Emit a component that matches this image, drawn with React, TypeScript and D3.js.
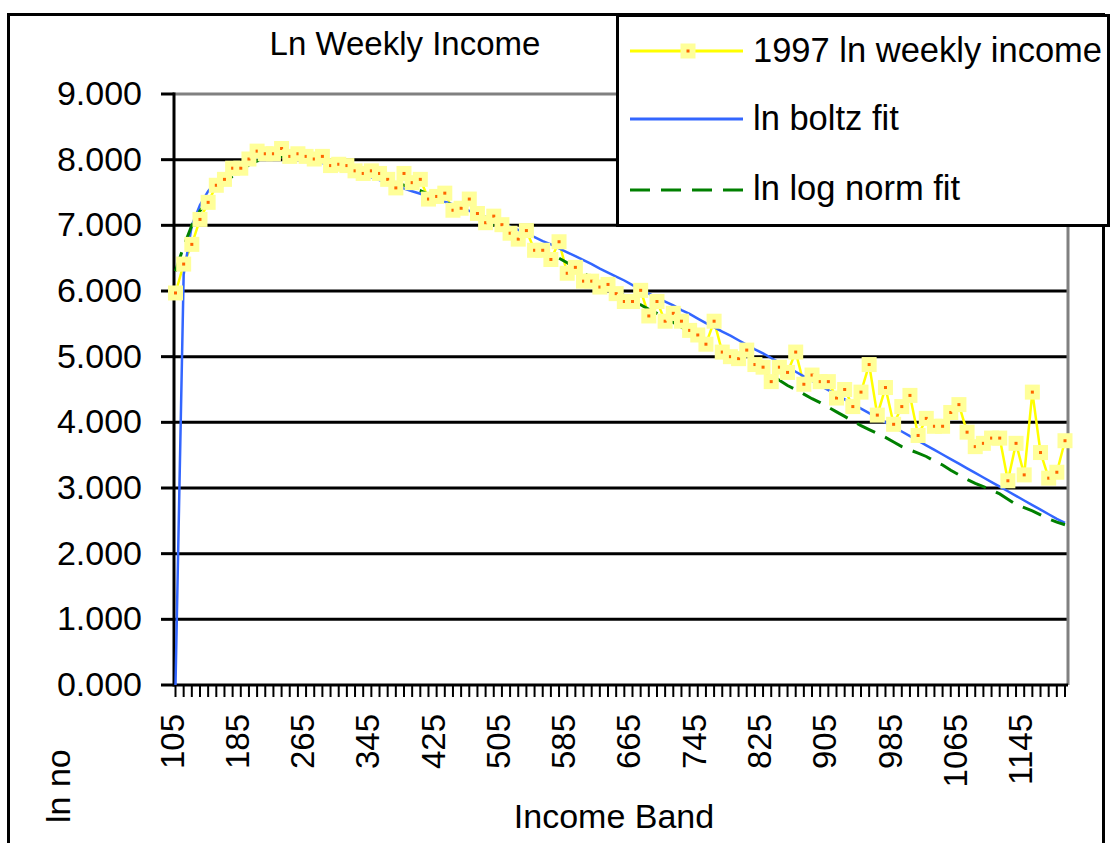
import React from 'react';
import * as d3 from 'd3';

const categories = [
  105, 115, 125, 135, 145, 155, 165, 175, 185, 195,
  205, 215, 225, 235, 245, 255, 265, 275, 285, 295,
  305, 315, 325, 335, 345, 355, 365, 375, 385, 395,
  405, 415, 425, 435, 445, 455, 465, 475, 485, 495,
  505, 515, 525, 535, 545, 555, 565, 575, 585, 595,
  605, 615, 625, 635, 645, 655, 665, 675, 685, 695,
  705, 715, 725, 735, 745, 755, 765, 775, 785, 795,
  805, 815, 825, 835, 845, 855, 865, 875, 885, 895,
  905, 915, 925, 935, 945, 955, 965, 975, 985, 995,
  1005, 1015, 1025, 1035, 1045, 1055, 1065, 1075, 1085, 1095,
  1105, 1115, 1125, 1135, 1145, 1155, 1165, 1175, 1185, 1195,
];

const xTickLabels = ['105', '185', '265', '345', '425', '505', '585', '665', '745', '825', '905', '985', '1065', '1145'];

const yTicks = [0, 1, 2, 3, 4, 5, 6, 7, 8, 9];

const lnWeekly1997 = [
  5.97, 6.41, 6.71, 7.09, 7.35, 7.61, 7.70, 7.87, 7.87, 8.01,
  8.13, 8.09, 8.09, 8.17, 8.05, 8.09, 8.05, 8.01, 8.05, 7.91,
  7.93, 7.91, 7.83, 7.79, 7.83, 7.79, 7.70, 7.57, 7.79, 7.65,
  7.70, 7.40, 7.44, 7.49, 7.23, 7.26, 7.40, 7.18, 7.04, 7.14,
  7.01, 6.88, 6.79, 6.92, 6.62, 6.62, 6.48, 6.75, 6.27, 6.36,
  6.15, 6.15, 6.06, 6.10, 5.96, 5.84, 5.84, 6.01, 5.62, 5.84,
  5.54, 5.66, 5.54, 5.40, 5.33, 5.19, 5.54, 5.07, 5.00, 4.97,
  5.10, 4.88, 4.84, 4.62, 4.84, 4.76, 5.07, 4.58, 4.72, 4.62,
  4.62, 4.37, 4.50, 4.24, 4.46, 4.88, 4.11, 4.53, 3.97, 4.24,
  4.41, 3.80, 4.06, 3.94, 3.94, 4.15, 4.27, 3.85, 3.63, 3.68,
  3.76, 3.76, 3.11, 3.68, 3.20, 4.46, 3.54, 3.15, 3.24, 3.72,
];

const lnBoltzFit = [
  0.00, 6.25, 7.00, 7.31, 7.52, 7.67, 7.78, 7.87, 7.94, 7.99,
  8.03, 8.05, 8.06, 8.06, 8.05, 8.03, 8.01, 7.98, 7.95, 7.92,
  7.88, 7.85, 7.81, 7.77, 7.73, 7.69, 7.65, 7.61, 7.56, 7.52,
  7.48, 7.44, 7.40, 7.36, 7.32, 7.27, 7.22, 7.17, 7.13, 7.08,
  7.03, 6.98, 6.93, 6.87, 6.82, 6.76, 6.71, 6.65, 6.59, 6.53,
  6.47, 6.41, 6.34, 6.28, 6.22, 6.16, 6.09, 6.03, 5.96, 5.90,
  5.84, 5.78, 5.71, 5.65, 5.58, 5.51, 5.45, 5.38, 5.32, 5.25,
  5.18, 5.11, 5.05, 4.98, 4.91, 4.84, 4.77, 4.70, 4.63, 4.56,
  4.49, 4.42, 4.35, 4.28, 4.21, 4.14, 4.07, 4.00, 3.93, 3.86,
  3.79, 3.72, 3.65, 3.58, 3.51, 3.44, 3.37, 3.30, 3.23, 3.16,
  3.09, 3.02, 2.95, 2.88, 2.81, 2.74, 2.67, 2.60, 2.53, 2.47,
];

const lnLogNormFit = [
  6.30, 6.68, 7.00, 7.22, 7.38, 7.52, 7.64, 7.75, 7.84, 7.92,
  7.98, 8.02, 8.04, 8.05, 8.05, 8.04, 8.02, 8.00, 7.97, 7.94,
  7.91, 7.87, 7.84, 7.80, 7.77, 7.73, 7.69, 7.65, 7.61, 7.57,
  7.53, 7.47, 7.42, 7.36, 7.30, 7.23, 7.17, 7.11, 7.05, 6.99,
  6.93, 6.87, 6.80, 6.74, 6.68, 6.62, 6.56, 6.50, 6.43, 6.35,
  6.27, 6.20, 6.13, 6.06, 5.99, 5.93, 5.86, 5.79, 5.72, 5.66,
  5.59, 5.52, 5.45, 5.38, 5.31, 5.24, 5.17, 5.11, 5.05, 4.98,
  4.92, 4.85, 4.78, 4.71, 4.64, 4.56, 4.50, 4.43, 4.36, 4.30,
  4.23, 4.16, 4.09, 4.02, 3.95, 3.89, 3.83, 3.77, 3.70, 3.63,
  3.58, 3.53, 3.48, 3.41, 3.35, 3.27, 3.20, 3.13, 3.07, 3.02,
  2.97, 2.91, 2.83, 2.75, 2.70, 2.65, 2.59, 2.53, 2.48, 2.44,
];

const legendItems = ['1997 ln weekly income', 'ln boltz fit', 'ln log norm fit'];

const FONT = '"Liberation Sans", Arial, "DejaVu Sans", sans-serif';
const YELLOW = '#FFFF00';
const MARKER_FILL = '#FFFF99';
const MARKER_DOT = '#FF6600';
const BLUE = '#3366FF';
const GREEN = '#008000';

export default function App() {
  const W = 1112;
  const H = 843;
  const plotLeft = 174;
  const plotRight = 1068;
  const plotTop = 94;
  const plotBottom = 685;
  const M = 15; // marker size

  const x = d3.scalePoint<number>().domain(categories).range([175.5, 1065]);
  const y = d3.scaleLinear().domain([0, 9]).range([plotBottom, plotTop]);

  const lineGen = d3
    .line<number>()
    .x((_, i) => x(categories[i]) as number)
    .y((d) => y(d));

  const fmt = d3.format('.3f');

  return (
    <svg
      width={W}
      height={H}
      viewBox={`0 0 ${W} ${H}`}
      style={{ position: 'absolute', left: 0, top: 0, background: '#fff' }}
      fontFamily={FONT}
    >
      <rect x={0} y={0} width={W} height={H} fill="#fff" />
      {/* outer chart border */}
      <rect x={8.5} y={14.5} width={1095} height={860} fill="none" stroke="#000" strokeWidth={3} />

      {/* title */}
      <text x={405} y={55} fontSize={33} textAnchor="middle" fill="#000">
        Ln Weekly Income
      </text>

      {/* gridlines */}
      {yTicks
        .filter((t) => t > 0 && t < 9)
        .map((t) => (
          <line key={`g${t}`} x1={plotLeft} x2={plotRight} y1={y(t)} y2={y(t)} stroke="#000" strokeWidth={3} />
        ))}
      {/* plot area border (top & right) */}
      <line x1={plotLeft} x2={plotRight} y1={y(9)} y2={y(9)} stroke="#808080" strokeWidth={3} />
      <line x1={plotRight} x2={plotRight} y1={plotTop} y2={plotBottom} stroke="#808080" strokeWidth={3} />

      {/* y axis */}
      <line x1={plotLeft} x2={plotLeft} y1={plotTop - 1.5} y2={plotBottom + 1.5} stroke="#000" strokeWidth={3} />
      {yTicks.map((t) => (
        <g key={`yt${t}`}>
          <line x1={161} x2={plotLeft} y1={y(t)} y2={y(t)} stroke="#000" strokeWidth={3} />
          <text x={142} y={y(t) + 11} fontSize={34} textAnchor="end" fill="#000">
            {fmt(t)}
          </text>
        </g>
      ))}

      {/* x axis */}
      <line x1={plotLeft} x2={plotRight} y1={plotBottom} y2={plotBottom} stroke="#000" strokeWidth={3} />
      {categories.map((c) => (
        <line key={`xt${c}`} x1={x(c)} x2={x(c)} y1={plotBottom} y2={697} stroke="#000" strokeWidth={2} />
      ))}
      {xTickLabels.map((lab) => {
        const cx = x(+lab) as number;
        return (
          <text
            key={`xl${lab}`}
            transform={`translate(${cx + 8},714) rotate(-90)`}
            fontSize={33}
            textAnchor="end"
            fill="#000"
          >
            {lab}
          </text>
        );
      })}

      {/* axis titles */}
      <text x={614} y={828} fontSize={34} textAnchor="middle" fill="#000">
        Income Band
      </text>
      <text transform="translate(70,823) rotate(-90)" fontSize={34} textAnchor="start" fill="#000">
        ln no
      </text>

      {/* series lines */}
      <path d={lineGen(lnWeekly1997) as string} fill="none" stroke={YELLOW} strokeWidth={2.5} />
      <path d={lineGen(lnBoltzFit) as string} fill="none" stroke={BLUE} strokeWidth={2.5} />
      <path
        d={lineGen(lnLogNormFit) as string}
        fill="none"
        stroke={GREEN}
        strokeWidth={3}
        strokeDasharray="20 11"
      />

      {/* markers */}
      {lnWeekly1997.map((v, i) => {
        const cx = x(categories[i]) as number;
        const cy = y(v);
        return (
          <g key={`m${i}`}>
            <rect x={cx - M / 2} y={cy - M / 2} width={M} height={M} fill={MARKER_FILL} />
            <rect x={cx - 1.5} y={cy - 1.5} width={3} height={3} fill={MARKER_DOT} />
          </g>
        );
      })}

      {/* legend */}
      <rect x={617.5} y={15.5} width={491} height={210} fill="#fff" stroke="#000" strokeWidth={3} />
      <line x1={630} x2={743} y1={51} y2={51} stroke={YELLOW} strokeWidth={3} />
      <rect x={688 - M / 2} y={51 - M / 2} width={M} height={M} fill={MARKER_FILL} />
      <rect x={686.5} y={49.5} width={3} height={3} fill={MARKER_DOT} />
      <line x1={630} x2={743} y1={119} y2={119} stroke={BLUE} strokeWidth={3} />
      <line x1={630} x2={743} y1={190} y2={190} stroke={GREEN} strokeWidth={3} strokeDasharray="20 11" />
      {legendItems.map((t, i) => (
        <text key={t} x={753} y={[62, 130, 200][i]} fontSize={34.5} fill="#000">
          {t}
        </text>
      ))}
    </svg>
  );
}
